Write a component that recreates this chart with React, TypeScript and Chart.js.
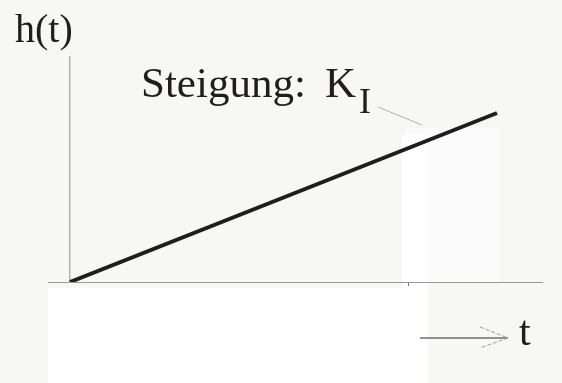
import React, { useEffect, useRef } from "react";
import { Chart, registerables } from "chart.js";

Chart.register(...registerables);

// Step response of an integrator: h(t) = K_I * t
const timeValues = [0, 4.27];
const responseValues = [0, 1.69];
const markedTime = [3.38];

const xRange = [-0.22, 4.72];
const yRange = [0, 2.25];

const serif = '"Liberation Serif", "Times New Roman", serif';
const ink = "#1f1d1d";

const annotations = {
  id: "annotations",
  beforeDraw(chart: any) {
    const { ctx, width, height } = chart;
    ctx.save();
    ctx.fillStyle = "#f7f7f6";
    ctx.fillRect(0, 0, width, height);
    ctx.fillStyle = "#fbfbfb";
    ctx.fillRect(405, 128, 95, 155);
    ctx.fillStyle = "#ffffff";
    ctx.fillRect(48, 288, 372, height - 288);
    ctx.fillRect(402, 135, 26, height - 135);
    ctx.restore();
  },
  afterDraw(chart: any) {
    const { ctx } = chart;
    ctx.save();
    ctx.fillStyle = ink;
    ctx.textBaseline = "alphabetic";
    ctx.textAlign = "left";

    // y-axis title
    ctx.font = `40px ${serif}`;
    ctx.fillText("h(t)", 15, 42);

    // slope label
    ctx.font = `43px ${serif}`;
    ctx.fillText("Steigung:", 141, 97);
    ctx.fillText("K", 325, 97);
    ctx.font = `36px ${serif}`;
    ctx.fillText("I", 359, 113);

    // leader from label to line
    ctx.strokeStyle = "#b0b0b0";
    ctx.lineWidth = 1;
    ctx.beginPath();
    ctx.moveTo(378, 107);
    ctx.lineTo(422, 125);
    ctx.stroke();

    // time arrow
    ctx.strokeStyle = "#6e6e6e";
    ctx.lineWidth = 1.3;
    ctx.beginPath();
    ctx.moveTo(420, 338);
    ctx.lineTo(508, 338);
    ctx.stroke();
    ctx.strokeStyle = "#9a9a9a";
    ctx.lineWidth = 1;
    ctx.setLineDash([4, 2]);
    ctx.beginPath();
    ctx.moveTo(480, 327);
    ctx.lineTo(508, 338);
    ctx.lineTo(480, 348);
    ctx.stroke();
    ctx.setLineDash([]);

    ctx.font = `42px ${serif}`;
    ctx.fillText("t", 519, 345);
    ctx.restore();
  },
};

export default function App() {
  const canvasRef = useRef<HTMLCanvasElement | null>(null);

  useEffect(() => {
    document.body.style.margin = "0";
    const canvas = canvasRef.current;
    if (!canvas) return;
    const chart = new Chart(canvas, {
      type: "scatter",
      data: {
        datasets: [
          {
            data: timeValues.map((t, i) => ({ x: t, y: responseValues[i] })),
            showLine: true,
            borderColor: ink,
            borderWidth: 4,
            borderCapStyle: "butt",
            pointRadius: 0,
            fill: false,
          },
        ],
      },
      options: {
        animation: false,
        responsive: false,
        maintainAspectRatio: false,
        layout: { padding: { left: 48, top: 57, right: 20, bottom: 101 } },
        plugins: {
          legend: { display: false },
          tooltip: { enabled: false },
          title: { display: false },
        },
        scales: {
          x: {
            type: "linear",
            min: xRange[0],
            max: xRange[1],
            position: { y: 0 },
            afterBuildTicks: (scale: any) => {
              scale.ticks = markedTime.map((v) => ({ value: v }));
            },
            ticks: { display: false },
            grid: {
              display: true,
              drawOnChartArea: false,
              drawTicks: true,
              tickLength: 3,
              color: "#777777",
            },
            border: { display: true, color: "#9a9a9a", width: 1 },
          },
          y: {
            type: "linear",
            min: yRange[0],
            max: yRange[1],
            position: { x: 0 },
            ticks: { display: false },
            grid: { display: false },
            border: { display: true, color: "#b4b4b4", width: 1.5 },
          },
        },
      },
      plugins: [annotations],
    });
    return () => chart.destroy();
  }, []);

  return (
    <div style={{ width: 562, height: 383 }}>
      <canvas ref={canvasRef} width={562} height={383} style={{ display: "block" }} />
    </div>
  );
}
